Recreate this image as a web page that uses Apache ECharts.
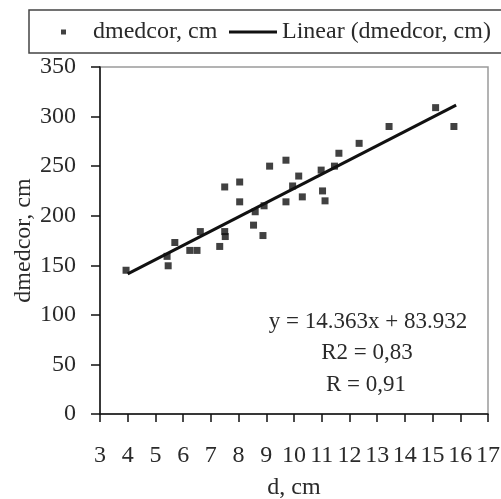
<!DOCTYPE html>
<html>
<head>
<meta charset="utf-8">
<script src="https://cdn.jsdelivr.net/npm/echarts@6/dist/echarts.min.js"></script>
<style>html,body{margin:0;padding:0;background:#fff;}#c{width:501px;height:499px;}</style>
</head>
<body>
<div id="c"></div>
<script>
// Data
var dValues = [3.94, 5.46, 5.42, 5.70, 6.24, 6.50, 6.62, 7.32, 7.50, 7.50, 7.52, 8.04, 8.04, 8.54, 8.60, 8.88, 8.92, 9.12, 9.71, 9.71, 9.95, 10.17, 10.30, 10.98, 11.03, 11.12, 11.46, 11.62, 12.35, 13.43, 15.11, 15.77];
var dmedcorValues = [145, 149.5, 159, 173, 165, 165, 184, 169, 229, 184, 179, 234, 214, 190.5, 204, 180, 210, 250, 256, 214, 230, 240, 219, 246, 225, 215, 250, 263, 273, 290, 309, 290];
var trendX = [4.0, 15.85];
var trendY = [141.4, 311.6];
var annotationLines = ['y = 14.363x + 83.932', 'R2 = 0,83', 'R = 0,91'];
var seriesNames = ['dmedcor, cm', 'Linear (dmedcor, cm)'];
var xAxisName = 'd, cm';
var yAxisName = 'dmedcor, cm';

var scatterData = dValues.map(function (x, i) { return [x, dmedcorValues[i]]; });
var trendData = trendX.map(function (x, i) { return [x, trendY[i]]; });

var FONT = '"Liberation Serif", "Times New Roman", serif';
var TXT = '#2a2a2a';

var chart = echarts.init(document.getElementById('c'), null, { renderer: 'canvas' });
chart.setOption({
  animation: false,
  backgroundColor: '#fff',
  grid: { left: 100, right: 13, top: 67, bottom: 85, show: true, borderColor: '#9a9a9a', borderWidth: 1.5, containLabel: false, outerBoundsMode: 'none' },
  legend: [
    {
      data: [{ name: seriesNames[0], icon: 'rect' }],
      left: 61, top: 20, itemWidth: 5, itemHeight: 5, padding: 0,
      textStyle: { fontFamily: FONT, fontSize: 24, color: TXT, padding: [0, 0, 0, 22] },
      selectedMode: false
    },
    {
      data: [{ name: seriesNames[1], icon: 'rect' }],
      left: 229, top: 20, itemWidth: 48, itemHeight: 3, padding: 0,
      textStyle: { fontFamily: FONT, fontSize: 24, color: TXT },
      selectedMode: false
    }
  ],
  xAxis: {
    type: 'value', min: 3, max: 17, interval: 1,
    name: xAxisName, nameLocation: 'middle', nameGap: 62, nameMoveOverlap: false,
    nameTextStyle: { fontFamily: FONT, fontSize: 24, color: TXT },
    axisLine: { show: true, onZero: false, lineStyle: { color: '#111', width: 1.5 } },
    axisTick: { show: true, length: 8, lineStyle: { color: '#111', width: 1.5 } },
    axisLabel: { fontFamily: FONT, fontSize: 24, color: TXT, margin: 30, hideOverlap: false },
    splitLine: { show: false }
  },
  yAxis: {
    type: 'value', min: 0, max: 350, interval: 50,
    name: yAxisName, nameLocation: 'middle', nameGap: 64, nameRotate: 90, nameMoveOverlap: false,
    nameTextStyle: { fontFamily: FONT, fontSize: 24, color: TXT },
    axisLine: { show: true, lineStyle: { color: '#111', width: 1.5 } },
    axisTick: { show: true, length: 9, lineStyle: { color: '#111', width: 1.5 } },
    axisLabel: { fontFamily: FONT, fontSize: 24, color: TXT, margin: 24 },
    splitLine: { show: false }
  },
  series: [
    {
      name: seriesNames[0], type: 'scatter', data: scatterData,
      symbol: 'rect', symbolSize: 7,
      itemStyle: { color: '#111' }
    },
    {
      name: seriesNames[1], type: 'line', data: trendData,
      showSymbol: false, symbol: 'none',
      lineStyle: { color: '#111', width: 3 },
      itemStyle: { color: '#111' }
    }
  ],
  graphic: [
    { type: 'rect', shape: { x: 29, y: 10, width: 500, height: 43 }, style: { fill: 'none', stroke: '#444', lineWidth: 1.5 }, z: 10 },
    { type: 'text', x: 368, y: 322, style: { text: annotationLines[0], font: '23px ' + FONT, fill: TXT, textAlign: 'center', textVerticalAlign: 'middle' }, z: 10 },
    { type: 'text', x: 367, y: 353, style: { text: annotationLines[1], font: '23px ' + FONT, fill: TXT, textAlign: 'center', textVerticalAlign: 'middle' }, z: 10 },
    { type: 'text', x: 366, y: 385, style: { text: annotationLines[2], font: '23px ' + FONT, fill: TXT, textAlign: 'center', textVerticalAlign: 'middle' }, z: 10 }
  ]
});
</script>
</body>
</html>
